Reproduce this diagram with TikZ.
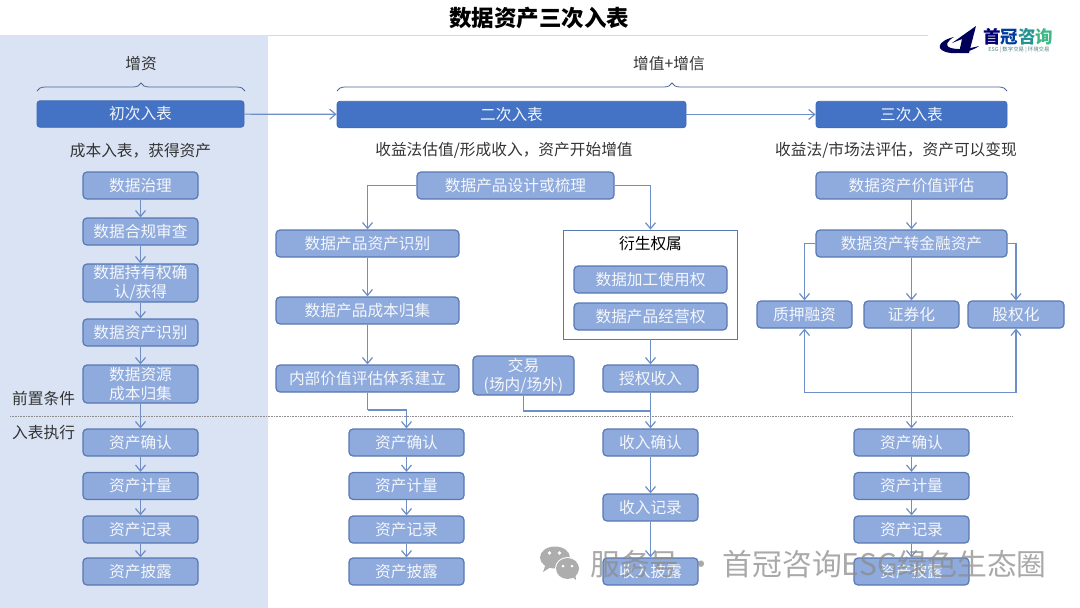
\documentclass[tikz,border=0pt]{standalone}
\usepackage{fontspec}
\setmainfont{Noto Sans CJK SC}
\usetikzlibrary{arrows.meta,decorations.pathreplacing}
\definecolor{panelblue}{HTML}{DAE3F3}
\definecolor{headblue}{HTML}{4472C4}
\definecolor{stepblue}{HTML}{8FAADC}
\definecolor{edgeblue}{HTML}{5878B4}
\definecolor{linkblue}{HTML}{6E8EC6}
\definecolor{inkgrey}{HTML}{333333}
\tikzset{
  headbox/.style={draw=headblue!92!black,line width=.8pt,fill=headblue,rounded corners=3pt,text=white!92!headblue,minimum height=26.5pt,inner sep=0pt,font=\fontsize{15.7}{19}\selectfont},
  stepbox/.style={draw=edgeblue,line width=1.2pt,fill=stepblue,rounded corners=4pt,text=white!90!stepblue,minimum width=115pt,minimum height=27pt,inner sep=0pt,align=center,font=\fontsize{15.7}{19}\selectfont},
  caption/.style={text=inkgrey,inner sep=0pt,font=\fontsize{15.7}{19}\selectfont},
  link/.style={draw=linkblue,line width=1.2pt,-{Straight Barb[length=6pt,width=10pt]}},
  plain/.style={draw=linkblue,line width=1.2pt},
  curly/.style={draw=edgeblue!85!black,line width=.8pt,decorate,decoration={brace,amplitude=8pt}},
  mark text/.style={text=black!45,opacity=.75,inner sep=0pt,font=\fontsize{29.8}{32}\selectfont},
}
\begin{document}
\begin{tikzpicture}[x=1pt,y=-1pt]
    \useasboundingbox (0,0) rectangle (1080,608);

    % panel and title
    \fill[panelblue] (0,35) rectangle (268,608);
    \coordinate (ruleA) at (268,35);
    \coordinate (ruleB) at (928,35);
    \draw[black!15,line width=.8pt] (ruleA)--(ruleB);
    \node[inner sep=0pt,font=\fontsize{22.5}{26}\selectfont\bfseries] (title) at (539,18) {数据资产三次入表};

    % logo
    \fill[blue!35!black] (976,26)--(969,53)--(959,53)--(962,39)--(952,43)--cycle;
    \fill[blue!35!black] (954,37) .. controls (937,41) and (934,51) .. (951,53) .. controls (962,54) and (974,50) .. (979,46) .. controls (968,49) and (958,50) .. (951,48) .. controls (944,46) and (947,41) .. (954,37);
    \node[inner sep=0pt,font=\fontsize{17.5}{20}\selectfont\bfseries] (logoname) at (1018,37) {\textcolor{blue!45!black}{首}\textcolor{blue!45!teal!85!black}{冠}\textcolor{teal!85}{咨}\textcolor{teal!75!green!75}{询}};
    \node[inner sep=0pt,text=teal!35!gray,font=\fontsize{5.4}{7}\selectfont] (logosub) at (1019,50) {ESG | 数字交易 | 环境交易};

    % braces
    \coordinate (capA) at (37,91);
    \coordinate (capB) at (245,91);
    \coordinate (capC) at (337,91);
    \coordinate (capD) at (1007,91);
    \draw[curly] (capA)--(capB);
    \draw[curly] (capC)--(capD);
    \node[caption] (zengzi) at (141,63.5) {增资};
    \node[caption] (zengzhi) at (669,63.5) {增值+增信};

    % heads
    \node[headbox,minimum width=207pt] (first) at (140.5,114) {初次入表};
    \node[headbox,minimum width=349pt] (second) at (511.5,114.5) {二次入表};
    \node[headbox,minimum width=191pt] (third) at (911.5,114.5) {三次入表};
    \draw[link] (first)--(second);
    \draw[link] (second)--(third);

    \node[caption] (capfirst) at (140.5,150.5) {成本入表，获得资产};
    \node[caption] (capsecond) at (504,150.5) {收益法估值/形成收入，资产开始增值};
    \node[caption] (capthird) at (896,150.5) {收益法/市场法评估，资产可以变现};

    % divider
    \coordinate (divA) at (10,416);
    \coordinate (divB) at (1012,416);
    \draw[black!45,densely dotted,line width=.6pt] (divA)--(divB);
    \node[caption,anchor=west] (before) at (12,398) {前置条件};
    \node[caption,anchor=west] (after) at (12,433) {入表执行};

    % first column
    \node[stepbox] (gov) at (140.5,185.5) {数据治理};
    \node[stepbox] (audit) at (140.5,231.5) {数据合规审查};
    \node[stepbox,minimum height=38pt] (right) at (140.5,283) {数据持有权确\\认/获得};
    \node[stepbox] (ident) at (140.5,332.5) {数据资产识别};
    \node[stepbox,minimum height=38pt] (cost) at (140.5,384) {数据资源\\成本归集};

    % second column
    \node[stepbox,minimum width=197pt] (design) at (515.5,185.5) {数据产品设计或梳理};
    \node[stepbox,minimum width=183pt] (pident) at (367.5,243.5) {数据产品资产识别};
    \node[stepbox,minimum width=183pt] (pcost) at (367.5,310.5) {数据产品成本归集};
    \node[stepbox,minimum width=183pt] (inner) at (367.5,378.5) {内部价值评估体系建立};

    % derived rights
    \node[draw=edgeblue,line width=.8pt,fill=white,minimum width=174pt,minimum height=109pt] (derived) at (650.5,284.5) {};
    \node[inner sep=0pt,text=black,font=\fontsize{15.7}{19}\selectfont] (derivedname) at (650.5,244) {衍生权属};
    \node[stepbox,minimum width=153pt] (useright) at (650.5,279.5) {数据加工使用权};
    \node[stepbox,minimum width=153pt] (runright) at (650.5,316.5) {数据产品经营权};

    \node[stepbox,minimum width=101pt,minimum height=39pt] (trade) at (523.5,375.5) {交易\\(场内/场外)};
    \node[stepbox,minimum width=95pt] (licence) at (650.5,378.5) {授权收入};
    \node[stepbox,minimum width=95pt] (inconf) at (650.5,442.5) {收入确认};
    \node[stepbox,minimum width=95pt] (inrec) at (650.5,507.5) {收入记录};
    \node[stepbox,minimum width=95pt] (inshow) at (650.5,571.5) {收入披露};

    % third column
    \node[stepbox,minimum width=191pt] (value) at (911.5,185.5) {数据资产价值评估};
    \node[stepbox,minimum width=191pt] (finance) at (911.5,243.5) {数据资产转金融资产};
    \node[stepbox,minimum width=95pt] (pledge) at (804.5,314.5) {质押融资};
    \node[stepbox,minimum width=95pt] (secur) at (911.5,314.5) {证券化};
    \node[stepbox,minimum width=96pt] (equity) at (1016,314.5) {股权化};

    % the same four steps
    \foreach \c/\x in {a/140.5,b/406.5,d/911.5}{
      \node[stepbox] (\c conf) at (\x,442.5) {资产确认};
      \node[stepbox] (\c meas) at (\x,486) {资产计量};
      \node[stepbox] (\c rec) at (\x,529.5) {资产记录};
      \node[stepbox] (\c show) at (\x,571.5) {资产披露};
      \draw[link] (\c conf)--(\c meas);
      \draw[link] (\c meas)--(\c rec);
      \draw[link] (\c rec)--(\c show);
    }

    \draw[link] (gov)--(audit);
    \draw[link] (audit)--(right);
    \draw[link] (right)--(ident);
    \draw[link] (ident)--(cost);
    \draw[link] (cost)--(aconf);

    \draw[link] (design.west) -| (pident.north);
    \draw[link] (design.east) -| (derived.north);
    \draw[link] (pident)--(pcost);
    \draw[link] (pcost)--(inner);
    \coordinate (turn) at (367.5,410);
    \draw[plain] (inner.south)--(turn);
    \draw[link] (turn) -| (bconf.north);

    \draw[link] (derived.south)--(licence.north);
    \draw[link] (licence)--(inconf);
    \draw[link] (inconf)--(inrec);
    \draw[link] (inrec)--(inshow);
    \coordinate (join) at (650.5,411);
    \coordinate (tradedown) at (523.5,411);
    \draw[plain] (trade.south)--(tradedown)--(join);

    \draw[link] (value)--(finance);
    \draw[link] (finance.west) -| (pledge.north);
    \draw[link] (finance)--(secur);
    \draw[link] (finance.east) -| (equity.north);
    \draw[link] (secur)--(dconf);
    \coordinate (hub) at (911.5,392.5);
    \draw[link] (hub) -| (pledge.south);
    \draw[link] (hub) -| (equity.south);

    % watermark
    \fill[black!32] (555,557.5) ellipse (15 and 11);
    \fill[black!32] (543,572)--(546,563)--(551,567)--cycle;
    \fill[white] (567.5,568.5) ellipse (12.5 and 11.5);
    \fill[black!32] (567.5,568.5) ellipse (11.5 and 10.5);
    \fill[black!32] (576,580)--(570,575)--(575,572)--cycle;
    \fill[white] (549.5,553) circle (1.8) (559.5,553) circle (1.8) (563,566) circle (1.5) (572,566) circle (1.5);
    \node[mark text,anchor=west] (mark) at (590,564) {服务号 · 首冠咨询ESG绿色生态圈};
\end{tikzpicture}
\end{document}
